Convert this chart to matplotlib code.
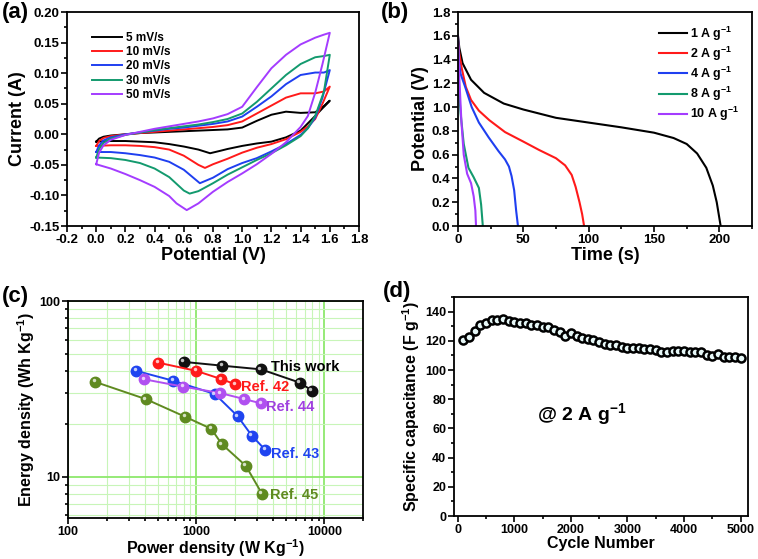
import numpy as np
import matplotlib
matplotlib.use("Agg")
import matplotlib.pyplot as plt
import matplotlib.transforms as mtransforms
from matplotlib.ticker import MultipleLocator, LogLocator, NullFormatter, FixedLocator, FixedFormatter

plt.rcParams['font.family'] = ['Liberation Sans', 'DejaVu Sans']
plt.rcParams['font.weight'] = 'bold'
plt.rcParams['axes.labelweight'] = 'bold'
plt.rcParams['mathtext.fontset'] = 'custom'
plt.rcParams['mathtext.rm'] = 'Liberation Sans:bold'
plt.rcParams['mathtext.bf'] = 'Liberation Sans:bold'
plt.rcParams['mathtext.default'] = 'bf'

# ---------------- (a) CV curves ----------------
cv_labels = ['5 mV/s', '10 mV/s', '20 mV/s', '30 mV/s', '50 mV/s']
cv_colors = ['#000000', '#ff1a1a', '#1f3ff0', '#139a6e', '#a43cff']

v_up = [0, 0.02, 0.05, 0.1, 0.2, 0.3, 0.4, 0.5, 0.6, 0.7, 0.8, 0.9, 1.0, 1.1, 1.2, 1.3, 1.4, 1.5, 1.56, 1.6]
i_up_5 = [-0.012, -0.007, -0.004, -0.002, 0.0, 0.002, 0.003, 0.004, 0.005, 0.006, 0.007, 0.008, 0.011, 0.022, 0.032, 0.037, 0.035, 0.036, 0.046, 0.055]
i_up_10 = [-0.019, -0.011, -0.006, -0.003, 0.0, 0.002, 0.004, 0.006, 0.008, 0.010, 0.012, 0.015, 0.021, 0.034, 0.047, 0.060, 0.067, 0.067, 0.070, 0.078]
i_up_20 = [-0.029, -0.018, -0.010, -0.005, 0.0, 0.003, 0.006, 0.009, 0.011, 0.014, 0.017, 0.021, 0.029, 0.045, 0.062, 0.082, 0.097, 0.101, 0.101, 0.105]
i_up_30 = [-0.038, -0.024, -0.014, -0.007, -0.001, 0.003, 0.007, 0.010, 0.013, 0.016, 0.020, 0.025, 0.034, 0.053, 0.075, 0.097, 0.115, 0.126, 0.128, 0.130]
i_up_50 = [-0.049, -0.030, -0.018, -0.009, -0.001, 0.004, 0.009, 0.013, 0.017, 0.021, 0.026, 0.033, 0.045, 0.077, 0.108, 0.130, 0.147, 0.158, 0.163, 0.166]

v_down_5 = [1.6, 1.5, 1.4, 1.3, 1.2, 1.1, 1.0, 0.9, 0.85, 0.78, 0.7, 0.6, 0.5, 0.4, 0.3, 0.2, 0.1, 0.0]
i_down_5 = [0.055, 0.030, 0.006, -0.005, -0.012, -0.015, -0.019, -0.024, -0.027, -0.031, -0.025, -0.020, -0.016, -0.013, -0.012, -0.011, -0.011, -0.012]
v_down_10 = [1.6, 1.55, 1.5, 1.45, 1.4, 1.3, 1.2, 1.1, 1.0, 0.9, 0.8, 0.745, 0.7, 0.6, 0.5, 0.4, 0.3, 0.2, 0.1, 0.0]
i_down_10 = [0.078, 0.050, 0.025, 0.013, 0.004, -0.008, -0.016, -0.022, -0.030, -0.040, -0.049, -0.055, -0.050, -0.035, -0.025, -0.021, -0.019, -0.018, -0.018, -0.019]
v_down_20 = [1.6, 1.55, 1.5, 1.45, 1.4, 1.3, 1.2, 1.1, 1.0, 0.9, 0.8, 0.71, 0.65, 0.6, 0.5, 0.4, 0.3, 0.2, 0.1, 0.0]
i_down_20 = [0.105, 0.060, 0.027, 0.010, -0.001, -0.016, -0.028, -0.039, -0.047, -0.057, -0.071, -0.080, -0.068, -0.058, -0.045, -0.038, -0.034, -0.031, -0.029, -0.029]
v_down_30 = [1.6, 1.56, 1.5, 1.45, 1.4, 1.3, 1.2, 1.1, 1.0, 0.9, 0.8, 0.7, 0.64, 0.6, 0.5, 0.4, 0.3, 0.2, 0.1, 0.0]
i_down_30 = [0.130, 0.070, 0.030, 0.010, -0.003, -0.018, -0.031, -0.042, -0.054, -0.066, -0.080, -0.093, -0.097, -0.092, -0.070, -0.056, -0.047, -0.042, -0.039, -0.038]
v_down_50 = [1.6, 1.55, 1.5, 1.45, 1.4, 1.3, 1.2, 1.1, 1.0, 0.9, 0.8, 0.7, 0.62, 0.55, 0.5, 0.4, 0.3, 0.2, 0.1, 0.0]
i_down_50 = [0.166, 0.115, 0.068, 0.030, 0.012, -0.013, -0.032, -0.049, -0.064, -0.078, -0.094, -0.113, -0.124, -0.113, -0.101, -0.086, -0.075, -0.065, -0.056, -0.049]

# ---------------- (b) discharge curves ----------------
gcd_labels = ['1 A g$^{-1}$', '2 A g$^{-1}$', '4 A g$^{-1}$', '8 A g$^{-1}$', '10 A g$^{-1}$']
gcd_colors = ['#000000', '#ff1a1a', '#1f3ff0', '#139a6e', '#a43cff']
t_1 = [0, 1, 3.5, 10, 20, 35, 50, 75, 100, 125, 150, 165, 175, 183, 190, 195, 198, 201]
u_1 = [1.6, 1.5, 1.37, 1.23, 1.12, 1.03, 0.98, 0.91, 0.87, 0.83, 0.785, 0.74, 0.69, 0.61, 0.49, 0.34, 0.2, 0.0]
t_2 = [0, 1, 3, 6, 10, 16, 24, 36, 50, 62, 75, 82, 87, 90, 93, 95, 96.5]
u_2 = [1.55, 1.45, 1.32, 1.17, 1.06, 0.97, 0.89, 0.79, 0.71, 0.64, 0.57, 0.51, 0.43, 0.33, 0.2, 0.1, 0.0]
t_4 = [0, 0.5, 2, 5.5, 10.5, 16, 23.5, 31, 36, 39, 41, 43, 44.5, 45.9]
u_4 = [1.55, 1.4, 1.28, 1.17, 1.0, 0.87, 0.745, 0.63, 0.56, 0.5, 0.42, 0.3, 0.13, 0.0]
t_8 = [0, 0.5, 1, 2, 4.4, 8, 12, 16, 17.7, 19]
u_8 = [1.58, 1.3, 1.1, 0.95, 0.69, 0.49, 0.41, 0.32, 0.18, 0.0]
t_10 = [0, 0.5, 1, 2.6, 4.4, 7, 10, 12, 13.3, 13.8]
u_10 = [1.6, 1.45, 1.25, 0.88, 0.6, 0.44, 0.36, 0.25, 0.13, 0.0]

# ---------------- (c) Ragone plot ----------------
rag_names = ['This work', 'Ref. 42', 'Ref. 43', 'Ref. 44', 'Ref. 45']
rag_colors = ['#111111', '#ff1a1a', '#1f44f0', '#b050f0', '#5f8a20']
p_this = [800, 1600, 3200, 6400, 8000]
e_this = [45, 42.8, 40.8, 34.3, 30.9]
p_42 = [508, 1000, 1570, 2025]
e_42 = [44.5, 40, 35.9, 33.5]
p_43 = [340, 665, 1400, 2100, 2715, 3450]
e_43 = [40, 35.1, 29.5, 22.1, 17.1, 14.2]
p_44 = [394, 792, 1540, 2380, 3210]
e_44 = [35.8, 32.5, 29.9, 27.6, 26.1]
p_45 = [163, 405, 820, 1310, 1584, 2440, 3250]
e_45 = [34.6, 27.6, 21.9, 18.7, 15.3, 11.5, 8.0]

# ---------------- (d) cycling ----------------
cycles = [100, 200, 300, 400, 500, 600, 700, 800, 900, 1000,
          1100, 1200, 1300, 1400, 1500, 1600, 1700, 1800, 1900, 2000,
          2100, 2200, 2300, 2400, 2500, 2600, 2700, 2800, 2900, 3000,
          3100, 3200, 3300, 3400, 3500, 3600, 3700, 3800, 3900, 4000,
          4100, 4200, 4300, 4400, 4500, 4600, 4700, 4800, 4900, 5000]
capacitance = [120.5, 122.5, 127, 130.5, 132.5, 134, 134.5, 135, 133.5, 133,
               132.5, 132, 131, 130.8, 129.2, 129.4, 127.4, 126.3, 123.5, 125,
               123, 122, 121, 120.5, 119.5, 118, 117, 117, 116, 115.3,
               114.8, 114.8, 114.4, 114.4, 113.7, 112, 112.6, 113, 113, 113,
               112.6, 112.6, 112.1, 110.3, 109.6, 110.7, 109.1, 108.9, 108.9, 108.5]


def style(ax, size=9.5):
    ax.tick_params(which='both', direction='out', width=1.2, labelsize=size,
                   top=False, right=False, pad=1.5)
    ax.tick_params(which='major', length=4)
    ax.tick_params(which='minor', length=2.5)
    for s in ax.spines.values():
        s.set_linewidth(1.3)


fig = plt.figure(figsize=(7.58, 5.59), dpi=100)

# (a)
ax = fig.add_axes([0.0884, 0.5957, 0.3852, 0.3828])
ups = [i_up_5, i_up_10, i_up_20, i_up_30, i_up_50]
downs = [(v_down_5, i_down_5), (v_down_10, i_down_10), (v_down_20, i_down_20),
         (v_down_30, i_down_30), (v_down_50, i_down_50)]
for iu, (vd, idn), lab, col in zip(ups, downs, cv_labels, cv_colors):
    v = np.concatenate([v_up, vd])
    i = np.concatenate([iu, idn])
    ax.plot(v, i, color=col, lw=1.4, label=lab)
ax.set_xlim(-0.2, 1.8)
ax.set_ylim(-0.15, 0.20)
ax.xaxis.set_major_locator(MultipleLocator(0.2))
ax.xaxis.set_minor_locator(MultipleLocator(0.1))
ax.yaxis.set_major_locator(MultipleLocator(0.05))
ax.yaxis.set_minor_locator(MultipleLocator(0.025))
ax.xaxis.set_major_formatter(plt.FuncFormatter(lambda x, p: f'{x:.1f}'))
ax.yaxis.set_major_formatter(plt.FuncFormatter(lambda y, p: f'{y:.2f}'))
style(ax)
ax.set_xlabel('Potential (V)', fontsize=13, labelpad=1)
ax.set_ylabel('Current (A)', fontsize=13, labelpad=2)
ax.legend(loc='upper left', bbox_to_anchor=(0.07, 0.93), frameon=False,
          fontsize=8.5, handlelength=2.5, labelspacing=0.2, borderaxespad=0,
          handletextpad=0.4)

# (b)
ax = fig.add_axes([0.6042, 0.5957, 0.3879, 0.3828])
for t, u, lab, col in zip([t_1, t_2, t_4, t_8, t_10], [u_1, u_2, u_4, u_8, u_10],
                          gcd_labels, gcd_colors):
    ax.plot(t, u, color=col, lw=1.5, label=lab)
ax.set_xlim(0, 225)
ax.set_ylim(0, 1.8)
ax.xaxis.set_major_locator(MultipleLocator(50))
ax.xaxis.set_minor_locator(MultipleLocator(25))
ax.yaxis.set_major_locator(MultipleLocator(0.2))
ax.yaxis.set_minor_locator(MultipleLocator(0.1))
ax.yaxis.set_major_formatter(plt.FuncFormatter(lambda y, p: f'{y:.1f}'))
style(ax)
ax.set_xlabel('Time (s)', fontsize=13, labelpad=1)
ax.set_ylabel('Potential (V)', fontsize=13, labelpad=2)
ax.legend(loc='upper left', bbox_to_anchor=(0.665, 0.965), frameon=False,
          fontsize=9, handlelength=2.3, labelspacing=0.15, borderaxespad=0,
          handletextpad=0.25)

# (c)
ax = fig.add_axes([0.0897, 0.0733, 0.3892, 0.3882])
ax.set_xscale('log')
ax.set_yscale('log')
ax.set_xlim(100, 20000)
ax.set_ylim(5.8, 100)
ax.grid(True, which='minor', color='#c8f5b8', lw=0.8)
ax.grid(True, which='major', color='#8ee86c', lw=1.3)
ax.set_axisbelow(True)
hl = mtransforms.offset_copy(ax.transData, fig=fig, x=-1.1, y=1.1, units='points')
series = [(p_this, e_this), (p_42, e_42), (p_43, e_43), (p_44, e_44), (p_45, e_45)]
for (p, e), col in zip(series, rag_colors):
    ax.plot(p, e, color=col, lw=1.4, marker='o', ms=7.5, mfc=col, mec=col, zorder=3)
    ax.plot(p, e, ls='none', marker='o', ms=2.5, mfc='white', mec='none',
            alpha=0.75, transform=hl, zorder=4)
ax.xaxis.set_major_locator(FixedLocator([100, 1000, 10000]))
ax.xaxis.set_major_formatter(FixedFormatter(['100', '1000', '10000']))
ax.xaxis.set_minor_locator(LogLocator(base=10, subs=np.arange(2, 10)))
ax.xaxis.set_minor_formatter(NullFormatter())
ax.yaxis.set_major_locator(FixedLocator([10, 100]))
ax.yaxis.set_major_formatter(FixedFormatter(['10', '100']))
ax.yaxis.set_minor_locator(LogLocator(base=10, subs=np.arange(2, 10)))
ax.yaxis.set_minor_formatter(NullFormatter())
style(ax, 9)
ax.set_xlabel('Power density (W Kg$^{-1}$)', fontsize=11.5, labelpad=0)
ax.set_ylabel('Energy density (Wh Kg$^{-1}$)', fontsize=11.5, labelpad=2)
ax.text(3800, 42, rag_names[0], color='#000000', fontsize=10.5, va='center')
ax.text(2250, 32.3, rag_names[1], color='#ff1a1a', fontsize=10.5, va='center')
ax.text(3850, 13.4, rag_names[2], color='#1f44f0', fontsize=10.5, va='center')
ax.text(3500, 24.8, rag_names[3], color='#a040e0', fontsize=10.5, va='center')
ax.text(3750, 7.85, rag_names[4], color='#5f8a20', fontsize=10.5, va='center')

# (d)
ax = fig.add_axes([0.5989, 0.0769, 0.3879, 0.3918])
ax.plot(cycles, capacitance, color='black', lw=1.5, marker='o', ms=5.8,
        mfc='#e6f7f7', mec='black', mew=1.8)
ax.set_xlim(-65, 5130)
ax.set_ylim(0, 150)
ax.xaxis.set_major_locator(MultipleLocator(1000))
ax.xaxis.set_minor_locator(MultipleLocator(500))
ax.yaxis.set_major_locator(MultipleLocator(20))
ax.yaxis.set_minor_locator(MultipleLocator(10))
style(ax, 9)
ax.set_xlabel('Cycle Number', fontsize=11.5, labelpad=0)
ax.set_ylabel('Specific capacitance (F g$^{-1}$)', fontsize=11.5, labelpad=2)
ax.text(2200, 70, '@ 2 A g$^{-1}$', fontsize=14, ha='center', va='center')

fig.text(0.003, 0.997, '(a)', fontsize=16, va='top')
fig.text(0.503, 0.997, '(b)', fontsize=16, va='top')
fig.text(0.003, 0.488, '(c)', fontsize=16, va='top')
fig.text(0.505, 0.497, '(d)', fontsize=16, va='top')

fig.savefig('out.png', dpi=100)
